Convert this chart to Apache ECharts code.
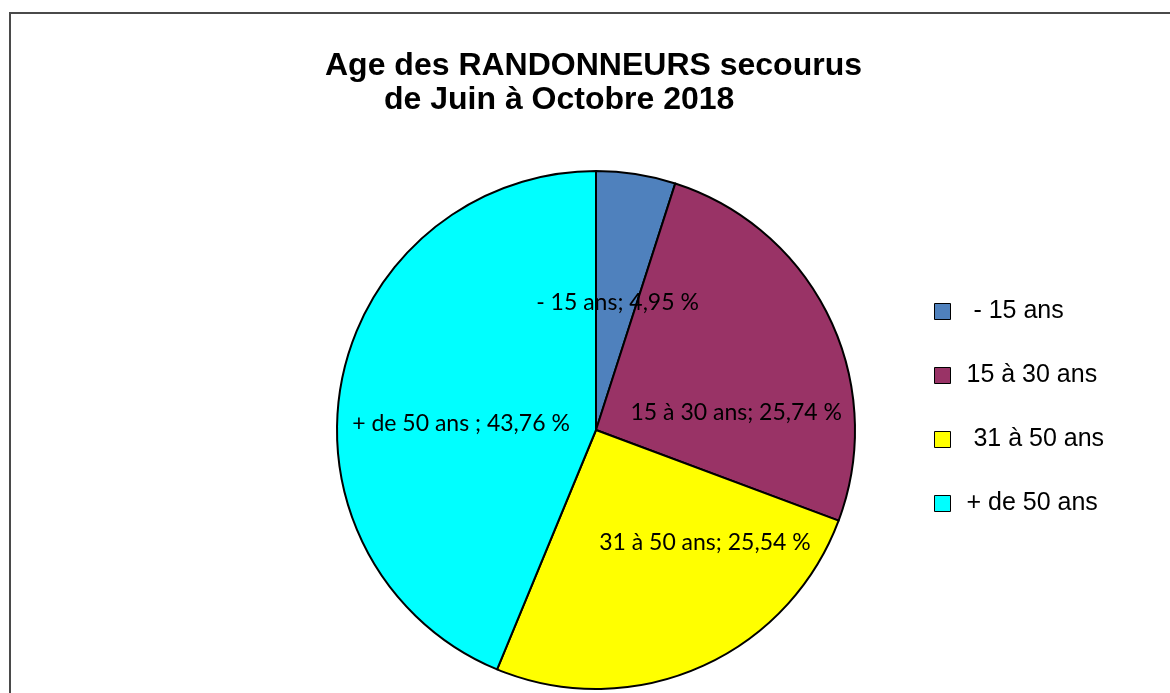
<!DOCTYPE html>
<html>
<head>
<meta charset="utf-8">
<script src="https://cdn.jsdelivr.net/npm/echarts@6/dist/echarts.min.js"></script>
<style type="text/css">
html, body {
    margin: 0;
    padding: 0;
    background: #fff;
}
#main {
    width: 1170px;
    height: 693px;
}
</style>
</head>
<body>
<div id="main"></div>
<script type="text/javascript">
// donnees du graphique
var categories = [' - 15 ans', '15 à 30 ans', ' 31 à 50 ans', '+ de 50 ans'];
var values = [4.95, 25.74, 25.54, 43.76];
var labelTexts = ['- 15 ans; 4,95 %', '15 à 30 ans; 25,74 %', '31 à 50 ans; 25,54 %', '+ de 50 ans ; 43,76 %'];
var colors = ['#4F81BD', '#993366', '#FFFF00', '#00FFFF'];
// decalage des etiquettes (placement type Excel)
var labelOffsets = [[1, 3], [21, 40], [56, -9], [-5, 19]];

var pieData = [];
for (var i = 0; i < categories.length; i++) {
    pieData.push({
        name: categories[i],
        value: values[i],
        itemStyle: { color: colors[i] },
        label: { offset: labelOffsets[i] }
    });
}

var myChart = echarts.init(document.getElementById('main'));
var option = {
    animation: false,
    title: [
        {
            text: 'Age des RANDONNEURS secourus',
            left: 320,
            top: 45,
            textStyle: { fontFamily: 'Liberation Sans', fontWeight: 'bold', fontSize: 32, color: '#000' }
        },
        {
            text: 'de Juin à Octobre 2018',
            left: 379,
            top: 79,
            textStyle: { fontFamily: 'Liberation Sans', fontWeight: 'bold', fontSize: 32, color: '#000' }
        }
    ],
    graphic: [
        {
            type: 'rect',
            shape: { x: 10, y: 13, width: 1200, height: 720 },
            style: { fill: 'none', stroke: '#4a4a4a', lineWidth: 2 },
            silent: true
        }
    ],
    legend: {
        orient: 'vertical',
        left: 934,
        top: 299,
        padding: 0,
        itemWidth: 16,
        itemHeight: 16,
        itemGap: 39,
        icon: 'rect',
        data: categories,
        itemStyle: { borderColor: '#000', borderWidth: 1 },
        textStyle: { fontFamily: 'Liberation Sans', fontSize: 25, color: '#000', padding: [0, 0, 0, 11] }
    },
    series: [
        {
            name: 'Age',
            type: 'pie',
            center: [596, 430],
            radius: 259,
            startAngle: 90,
            clockwise: true,
            avoidLabelOverlap: false,
            itemStyle: { borderColor: '#000', borderWidth: 2 },
            label: {
                show: true,
                position: 'inside',
                fontFamily: 'Lato',
                fontSize: 23,
                color: '#000',
                formatter: function (p) {
                    return labelTexts[p.dataIndex];
                }
            },
            labelLine: { show: false },
            data: pieData
        }
    ]
};
myChart.setOption(option);
</script>
</body>
</html>
